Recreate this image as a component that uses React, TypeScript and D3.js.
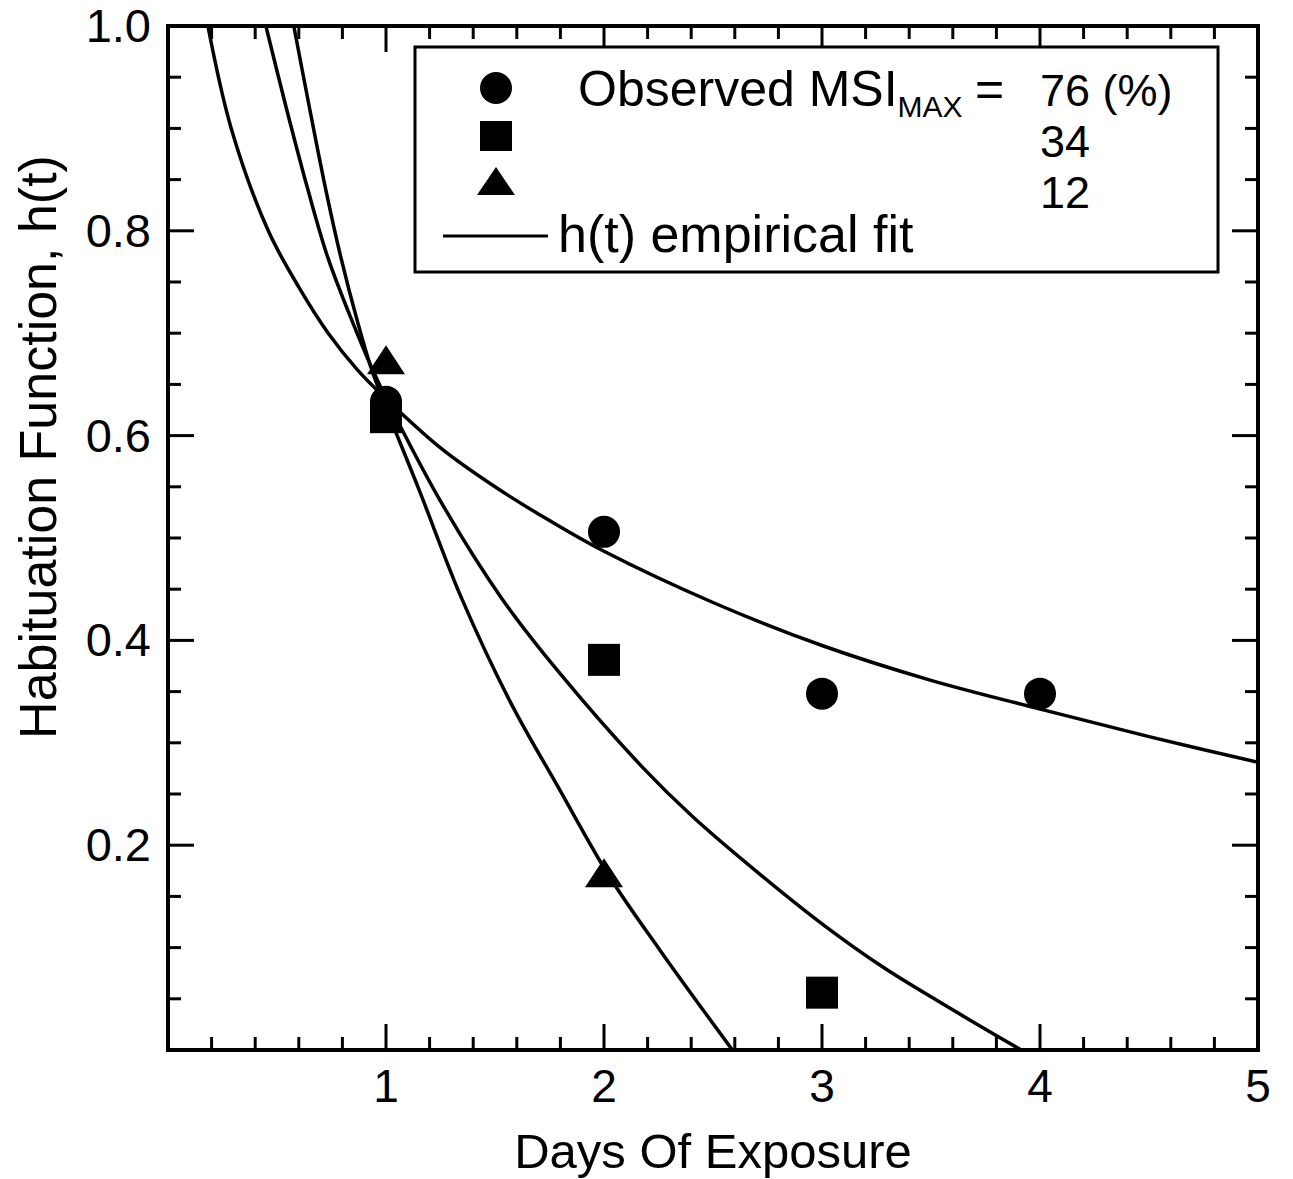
import React from "react";
import * as d3 from "d3";

// Observed points (days, h)
const obs76: [number, number][] = [[1, 0.633], [2, 0.506], [3, 0.348], [4, 0.348]];
const obs34: [number, number][] = [[1, 0.618], [2, 0.381], [3, 0.056]];
const obs12: [number, number][] = [[1, 0.674], [2, 0.173]];

const fit76: [number, number][] = [
  [0.183, 1.0], [0.29, 0.9], [0.46, 0.8], [0.6, 0.745], [0.735, 0.7], [0.87, 0.664],
  [1.0, 0.636], [1.25, 0.588], [1.5, 0.55], [1.75, 0.517], [2.0, 0.487], [2.5, 0.437],
  [3.0, 0.395], [3.5, 0.361], [4.0, 0.333], [4.5, 0.306], [5.0, 0.281],
];
const fit34: [number, number][] = [
  [0.449, 1.0], [0.545, 0.918], [0.642, 0.84], [0.733, 0.774], [0.848, 0.71], [0.939, 0.664],
  [1.004, 0.635], [1.25, 0.536], [1.531, 0.441], [1.797, 0.368], [2.177, 0.276], [2.406, 0.228],
  [2.713, 0.172], [3.02, 0.12], [3.286, 0.08], [3.538, 0.047], [3.744, 0.021], [3.914, 0.0],
];
const fit12: [number, number][] = [
  [0.577, 1.0], [0.651, 0.918], [0.724, 0.84], [0.793, 0.774], [0.871, 0.71], [0.935, 0.664],
  [0.995, 0.63], [1.15, 0.548], [1.347, 0.441], [1.57, 0.34], [1.797, 0.254], [2.026, 0.169],
  [2.255, 0.098], [2.589, 0.0],
];

const xTickLabels = [1, 2, 3, 4, 5];
const yTickLabels = ["0.2", "0.4", "0.6", "0.8", "1.0"];
const legendValues = ["76 (%)", "34", "12"];

const FONT = "'Liberation Sans', Arial, Helvetica, sans-serif";

export default function App() {
  const W = 1293, H = 1179;
  const x = d3.scaleLinear().domain([0, 5]).range([168, 1258]);
  const y = d3.scaleLinear().domain([0, 1]).range([1050, 26]);
  const [x0, x1] = x.range();
  const [yb, yt] = y.range();

  const line = d3
    .line<[number, number]>()
    .x((d) => x(d[0]))
    .y((d) => y(d[1]))
    .curve(d3.curveCatmullRom.alpha(0.5));

  const xMinor = d3.range(1, 25).map((i) => i * 0.2).filter((v) => Math.abs(v - Math.round(v)) > 1e-6);
  const xMajor = [1, 2, 3, 4];
  const yMinor = d3.range(1, 20).map((i) => i * 0.05).filter((v) => Math.abs(v * 5 - Math.round(v * 5)) > 1e-6);
  const yMajor = [0.2, 0.4, 0.6, 0.8];
  const MAJ = 26, MIN = 13;
  const sw = 3.5;
  const legendBase = [106, 157, 208];

  const tri = (cx: number, cy: number, w: number, h: number) =>
    `M${cx},${cy - h / 2}L${cx + w / 2},${cy + h / 2}L${cx - w / 2},${cy + h / 2}Z`;

  return (
    <svg width={W} height={H} style={{ position: "absolute", left: 0, top: 0, background: "#fff" }} fontFamily={FONT}>
      <defs>
        <clipPath id="plot">
          <rect x={x0} y={yt} width={x1 - x0} height={yb - yt} />
        </clipPath>
      </defs>
      <rect width={W} height={H} fill="#fff" />

      {/* ticks */}
      <g stroke="#000" strokeWidth={3}>
        {xMinor.map((v) => (
          <g key={"xm" + v}>
            <line x1={x(v)} x2={x(v)} y1={yb} y2={yb - MIN} />
            <line x1={x(v)} x2={x(v)} y1={yt} y2={yt + MIN} />
          </g>
        ))}
        {xMajor.map((v) => (
          <g key={"xM" + v}>
            <line x1={x(v)} x2={x(v)} y1={yb} y2={yb - MAJ} />
            <line x1={x(v)} x2={x(v)} y1={yt} y2={yt + MAJ} />
          </g>
        ))}
        {yMinor.map((v) => (
          <g key={"ym" + v}>
            <line x1={x0} x2={x0 + MIN} y1={y(v)} y2={y(v)} />
            <line x1={x1} x2={x1 - MIN} y1={y(v)} y2={y(v)} />
          </g>
        ))}
        {yMajor.map((v) => (
          <g key={"yM" + v}>
            <line x1={x0} x2={x0 + MAJ} y1={y(v)} y2={y(v)} />
            <line x1={x1} x2={x1 - MAJ} y1={y(v)} y2={y(v)} />
          </g>
        ))}
      </g>

      {/* frame */}
      <rect x={x0} y={yt} width={x1 - x0} height={yb - yt} fill="none" stroke="#000" strokeWidth={4} />

      {/* tick labels */}
      {xTickLabels.map((v) => (
        <text key={"xl" + v} x={x(v)} y={1102} fontSize={46} textAnchor="middle">
          {v}
        </text>
      ))}
      {yTickLabels.map((v) => (
        <text key={"yl" + v} x={151} y={y(+v) + 16} fontSize={47} textAnchor="end">
          {v}
        </text>
      ))}

      {/* axis titles */}
      <text x={(x0 + x1) / 2} y={1168} fontSize={49} textAnchor="middle">
        Days Of Exposure
      </text>
      <text transform={`translate(56,447) rotate(-90)`} fontSize={52} textAnchor="middle">
        Habituation Function, h(t)
      </text>

      {/* fits */}
      <g clipPath="url(#plot)" fill="none" stroke="#000" strokeWidth={sw}>
        <path d={line(fit76) || ""} />
        <path d={line(fit34) || ""} />
        <path d={line(fit12) || ""} />
      </g>

      {/* observed */}
      <g fill="#000">
        {obs76.map((d, i) => (
          <circle key={"c" + i} cx={x(d[0])} cy={y(d[1])} r={16} />
        ))}
        {obs34.map((d, i) => (
          <rect key={"s" + i} x={x(d[0]) - 16} y={y(d[1]) - 16} width={32} height={32} />
        ))}
        {obs12.map((d, i) => (
          <path key={"t" + i} d={tri(x(d[0]), y(d[1]), 38, 29)} />
        ))}
      </g>

      {/* legend */}
      <rect x={415} y={47} width={803} height={225} fill="#fff" stroke="#000" strokeWidth={3} />
      <circle cx={496} cy={88} r={16} fill="#000" />
      <rect x={480} y={121} width={32} height={30} fill="#000" />
      <path d={tri(496, 181, 38, 28)} fill="#000" />
      <line x1={443} x2={548} y1={236} y2={236} stroke="#000" strokeWidth={3} />
      <text x={578} y={legendBase[0]} fontSize={50}>
        Observed MSI
        <tspan fontSize={30} dy={11}>MAX</tspan>
      </text>
      <text x={975} y={legendBase[0]} fontSize={50}>=</text>
      {legendValues.map((v, i) => (
        <text key={"lv" + i} x={1040} y={legendBase[i]} fontSize={45}>
          {v}
        </text>
      ))}
      <text x={558} y={252} fontSize={52}>
        h(t) empirical fit
      </text>
    </svg>
  );
}
